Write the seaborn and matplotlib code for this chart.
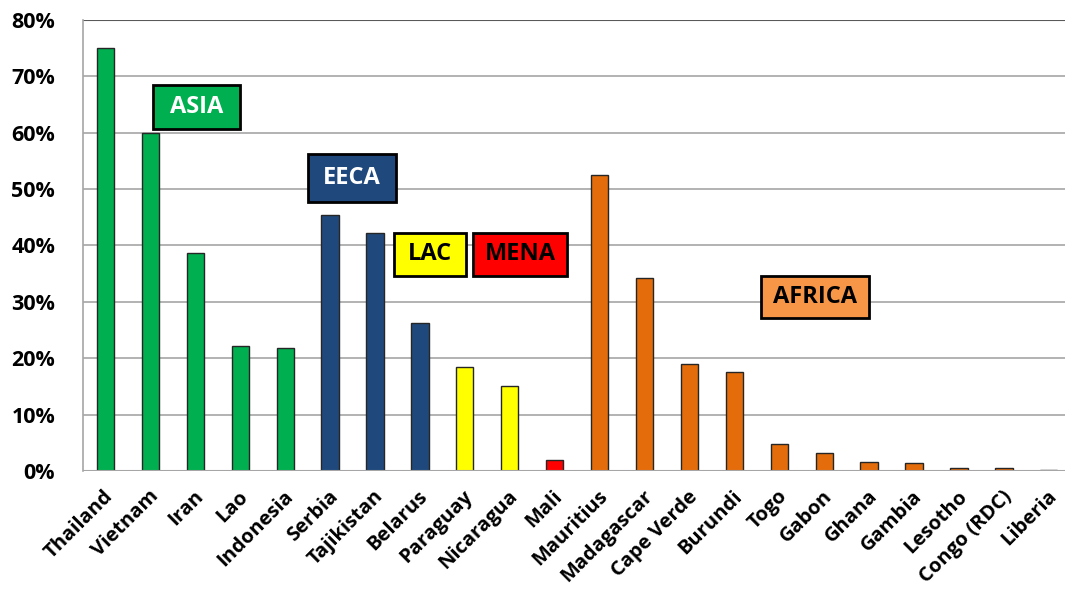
import matplotlib
matplotlib.use("Agg")
import matplotlib.pyplot as plt
from matplotlib.patches import Rectangle
from matplotlib.ticker import PercentFormatter
import seaborn as sns
import pandas as pd

countries = ["Thailand", "Vietnam", "Iran", "Lao", "Indonesia", "Serbia", "Tajikistan",
             "Belarus", "Paraguay", "Nicaragua", "Mali", "Mauritius", "Madagascar",
             "Cape Verde", "Burundi", "Togo", "Gabon", "Ghana", "Gambia", "Lesotho",
             "Congo (RDC)", "Liberia"]
values = [0.750, 0.599, 0.386, 0.222, 0.218, 0.454, 0.422, 0.263, 0.184, 0.151, 0.020,
          0.525, 0.342, 0.190, 0.176, 0.048, 0.032, 0.016, 0.014, 0.006, 0.006, 0.002]
regions = ["ASIA"] * 5 + ["EECA"] * 3 + ["LAC"] * 2 + ["MENA"] + ["AFRICA"] * 11

region_colors = {"ASIA": "#00B050", "EECA": "#1F497D", "LAC": "#FFFF00",
                 "MENA": "#FF0000", "AFRICA": "#E46C0A"}
label_fill = {"ASIA": "#00B050", "EECA": "#1F497D", "LAC": "#FFFF00",
              "MENA": "#FF0000", "AFRICA": "#F79646"}
label_text = {"ASIA": "white", "EECA": "white", "LAC": "black",
              "MENA": "black", "AFRICA": "black"}
# label boxes: (x0, x1, y0, y1) in data units
label_boxes = {"ASIA": (1.062, 2.998, 0.607, 0.685),
               "EECA": (4.505, 6.470, 0.477, 0.562),
               "LAC": (6.432, 8.021, 0.346, 0.422),
               "MENA": (8.177, 10.283, 0.346, 0.422),
               "AFRICA": (14.594, 16.997, 0.272, 0.346)}

df = pd.DataFrame({"country": countries, "value": values, "region": regions})

sns.set_style("white")
plt.rcParams["font.family"] = ["Open Sans", "DejaVu Sans"]
plt.rcParams["text.color"] = "black"
plt.rcParams["xtick.color"] = "black"
plt.rcParams["ytick.color"] = "black"

fig = plt.figure(figsize=(10.65, 5.92), dpi=100)
ax = fig.add_axes([83 / 1065, 121 / 592, 1 - 83 / 1065, (471 - 19.7) / 592])

sns.barplot(data=df, x="country", y="value", hue="region", palette=region_colors,
            saturation=1, dodge=False, width=0.385, legend=False, edgecolor="#262626",
            linewidth=1.0, ax=ax, zorder=3)

ax.set_ylim(0, 0.8)
ax.set_xlim(-0.5, 21.36)
ax.set_yticks([i / 10 for i in range(9)])
ax.yaxis.set_major_formatter(PercentFormatter(1.0, decimals=0))
ax.grid(axis="y", color="#A6A6A6", linewidth=1.2, zorder=0)
ax.set_axisbelow(True)
for s in ["top", "right", "bottom"]:
    ax.spines[s].set_visible(False)
ax.spines["left"].set_color("#A6A6A6")
ax.spines["left"].set_linewidth(1.2)
ax.axhline(0.8, color="#595959", linewidth=1.5, zorder=1)
ax.axhline(0.0, color="#A6A6A6", linewidth=1.5, zorder=4)

ax.tick_params(axis="y", length=9, width=1.2, color="#A6A6A6", pad=11,
               labelsize=15.5, labelcolor="black")
ax.tick_params(axis="x", length=0, pad=4, labelsize=14.5, labelcolor="black")
for lbl in ax.get_yticklabels():
    lbl.set_fontweight("bold")
ax.set_xticks(range(len(countries)))
ax.set_xticklabels(countries, rotation=45, ha="right", rotation_mode="anchor",
                   fontweight="bold")
for lbl in ax.get_xticklabels():
    lbl.set_transform(lbl.get_transform() +
                      matplotlib.transforms.ScaledTranslation(-0.02, -0.1, fig.dpi_scale_trans))
ax.set_xlabel("")
ax.set_ylabel("")

for reg, (x0, x1, y0, y1) in label_boxes.items():
    ax.add_patch(Rectangle((x0, y0), x1 - x0, y1 - y0, facecolor=label_fill[reg],
                           edgecolor="black", linewidth=2.0, zorder=5))
    ax.text((x0 + x1) / 2, (y0 + y1) / 2, reg, ha="center", va="center",
            fontsize=17, fontweight="bold", color=label_text[reg], zorder=6)

fig.savefig("out.png", dpi=100)
